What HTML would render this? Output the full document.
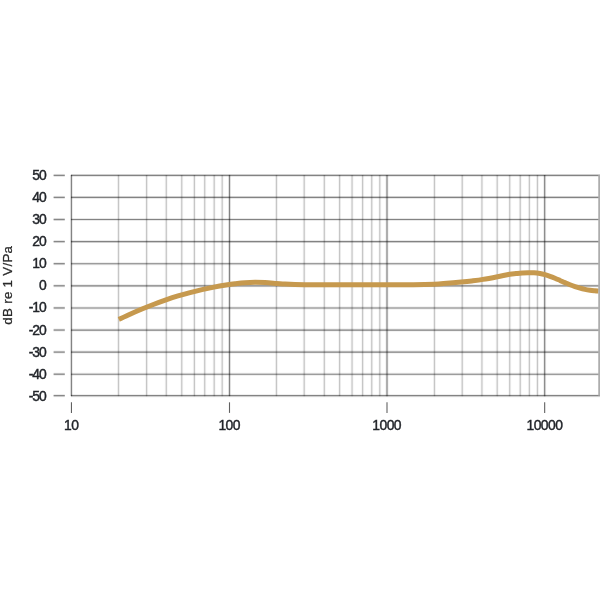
<!DOCTYPE html><html><head><meta charset="utf-8"><style>html,body{margin:0;padding:0;background:#fff}svg{display:block}text{font-family:"Liberation Sans",sans-serif;font-size:13.9px;fill:#22252a;stroke:#22252a;stroke-width:0.42px;letter-spacing:-0.55px}text.y{letter-spacing:-1.1px}text.t{font-size:13.3px;letter-spacing:0.3px;stroke-width:0.25px;fill:#2a2a2a;stroke:#2a2a2a}</style></head><body>
<svg width="600" height="600" viewBox="0 0 600 600">
<rect width="600" height="600" fill="#fff"/>
<g stroke="#000" stroke-opacity="0.045" stroke-width="3">
<line x1="118.50" y1="174.90" x2="118.50" y2="396.15"/>
<line x1="146.60" y1="174.90" x2="146.60" y2="396.15"/>
<line x1="166.30" y1="174.90" x2="166.30" y2="396.15"/>
<line x1="181.75" y1="174.90" x2="181.75" y2="396.15"/>
<line x1="194.40" y1="174.90" x2="194.40" y2="396.15"/>
<line x1="204.70" y1="174.90" x2="204.70" y2="396.15"/>
<line x1="214.20" y1="174.90" x2="214.20" y2="396.15"/>
<line x1="222.20" y1="174.90" x2="222.20" y2="396.15"/>
<line x1="276.46" y1="174.90" x2="276.46" y2="396.15"/>
<line x1="304.20" y1="174.90" x2="304.20" y2="396.15"/>
<line x1="324.32" y1="174.90" x2="324.32" y2="396.15"/>
<line x1="339.59" y1="174.90" x2="339.59" y2="396.15"/>
<line x1="352.06" y1="174.90" x2="352.06" y2="396.15"/>
<line x1="362.60" y1="174.90" x2="362.60" y2="396.15"/>
<line x1="371.74" y1="174.90" x2="371.74" y2="396.15"/>
<line x1="379.79" y1="174.90" x2="379.79" y2="396.15"/>
<line x1="434.46" y1="174.90" x2="434.46" y2="396.15"/>
<line x1="462.23" y1="174.90" x2="462.23" y2="396.15"/>
<line x1="481.93" y1="174.90" x2="481.93" y2="396.15"/>
<line x1="497.21" y1="174.90" x2="497.21" y2="396.15"/>
<line x1="509.69" y1="174.90" x2="509.69" y2="396.15"/>
<line x1="520.25" y1="174.90" x2="520.25" y2="396.15"/>
<line x1="529.39" y1="174.90" x2="529.39" y2="396.15"/>
<line x1="537.46" y1="174.90" x2="537.46" y2="396.15"/>
</g>
<g stroke="#000" stroke-opacity="0.19" stroke-width="1.2">
<line x1="118.50" y1="174.90" x2="118.50" y2="396.15"/>
<line x1="146.60" y1="174.90" x2="146.60" y2="396.15"/>
<line x1="166.30" y1="174.90" x2="166.30" y2="396.15"/>
<line x1="181.75" y1="174.90" x2="181.75" y2="396.15"/>
<line x1="194.40" y1="174.90" x2="194.40" y2="396.15"/>
<line x1="204.70" y1="174.90" x2="204.70" y2="396.15"/>
<line x1="214.20" y1="174.90" x2="214.20" y2="396.15"/>
<line x1="222.20" y1="174.90" x2="222.20" y2="396.15"/>
<line x1="276.46" y1="174.90" x2="276.46" y2="396.15"/>
<line x1="304.20" y1="174.90" x2="304.20" y2="396.15"/>
<line x1="324.32" y1="174.90" x2="324.32" y2="396.15"/>
<line x1="339.59" y1="174.90" x2="339.59" y2="396.15"/>
<line x1="352.06" y1="174.90" x2="352.06" y2="396.15"/>
<line x1="362.60" y1="174.90" x2="362.60" y2="396.15"/>
<line x1="371.74" y1="174.90" x2="371.74" y2="396.15"/>
<line x1="379.79" y1="174.90" x2="379.79" y2="396.15"/>
<line x1="434.46" y1="174.90" x2="434.46" y2="396.15"/>
<line x1="462.23" y1="174.90" x2="462.23" y2="396.15"/>
<line x1="481.93" y1="174.90" x2="481.93" y2="396.15"/>
<line x1="497.21" y1="174.90" x2="497.21" y2="396.15"/>
<line x1="509.69" y1="174.90" x2="509.69" y2="396.15"/>
<line x1="520.25" y1="174.90" x2="520.25" y2="396.15"/>
<line x1="529.39" y1="174.90" x2="529.39" y2="396.15"/>
<line x1="537.46" y1="174.90" x2="537.46" y2="396.15"/>
</g>
<g stroke="#000" stroke-opacity="0.085" stroke-width="3">
<line x1="70.95" y1="175.40" x2="600.00" y2="175.40"/>
<line x1="70.95" y1="197.40" x2="600.00" y2="197.40"/>
<line x1="70.95" y1="219.50" x2="600.00" y2="219.50"/>
<line x1="70.95" y1="241.60" x2="600.00" y2="241.60"/>
<line x1="70.95" y1="263.70" x2="600.00" y2="263.70"/>
<line x1="70.95" y1="285.80" x2="600.00" y2="285.80"/>
<line x1="70.95" y1="307.95" x2="600.00" y2="307.95"/>
<line x1="70.95" y1="330.05" x2="600.00" y2="330.05"/>
<line x1="70.95" y1="352.10" x2="600.00" y2="352.10"/>
<line x1="70.95" y1="374.20" x2="600.00" y2="374.20"/>
<line x1="70.95" y1="395.65" x2="600.00" y2="395.65"/>
<line x1="71.45" y1="174.90" x2="71.45" y2="396.15"/>
<line x1="229.50" y1="174.90" x2="229.50" y2="396.15"/>
<line x1="387.00" y1="174.90" x2="387.00" y2="396.15"/>
<line x1="544.67" y1="174.90" x2="544.67" y2="396.15"/>
</g>
<g stroke="#000" stroke-opacity="0.44" stroke-width="1.15">
<line x1="70.95" y1="175.40" x2="600.00" y2="175.40"/>
<line x1="70.95" y1="197.40" x2="600.00" y2="197.40"/>
<line x1="70.95" y1="219.50" x2="600.00" y2="219.50"/>
<line x1="70.95" y1="241.60" x2="600.00" y2="241.60"/>
<line x1="70.95" y1="263.70" x2="600.00" y2="263.70"/>
<line x1="70.95" y1="285.80" x2="600.00" y2="285.80"/>
<line x1="70.95" y1="307.95" x2="600.00" y2="307.95"/>
<line x1="70.95" y1="330.05" x2="600.00" y2="330.05"/>
<line x1="70.95" y1="352.10" x2="600.00" y2="352.10"/>
<line x1="70.95" y1="374.20" x2="600.00" y2="374.20"/>
<line x1="70.95" y1="395.65" x2="600.00" y2="395.65"/>
<line x1="71.45" y1="174.90" x2="71.45" y2="396.15"/>
<line x1="229.50" y1="174.90" x2="229.50" y2="396.15"/>
<line x1="387.00" y1="174.90" x2="387.00" y2="396.15"/>
<line x1="544.67" y1="174.90" x2="544.67" y2="396.15"/>
</g>
<g stroke="#000" stroke-opacity="0.09" stroke-width="3">
<line x1="53.60" y1="175.40" x2="64.80" y2="175.40"/>
<line x1="53.60" y1="197.40" x2="64.80" y2="197.40"/>
<line x1="53.60" y1="219.50" x2="64.80" y2="219.50"/>
<line x1="53.60" y1="241.60" x2="64.80" y2="241.60"/>
<line x1="53.60" y1="263.70" x2="64.80" y2="263.70"/>
<line x1="53.60" y1="285.80" x2="64.80" y2="285.80"/>
<line x1="53.60" y1="307.95" x2="64.80" y2="307.95"/>
<line x1="53.60" y1="330.05" x2="64.80" y2="330.05"/>
<line x1="53.60" y1="352.10" x2="64.80" y2="352.10"/>
<line x1="53.60" y1="374.20" x2="64.80" y2="374.20"/>
<line x1="53.60" y1="395.65" x2="64.80" y2="395.65"/>
</g>
<g stroke="#000" stroke-opacity="0.42" stroke-width="1.3">
<line x1="53.60" y1="175.40" x2="64.80" y2="175.40"/>
<line x1="53.60" y1="197.40" x2="64.80" y2="197.40"/>
<line x1="53.60" y1="219.50" x2="64.80" y2="219.50"/>
<line x1="53.60" y1="241.60" x2="64.80" y2="241.60"/>
<line x1="53.60" y1="263.70" x2="64.80" y2="263.70"/>
<line x1="53.60" y1="285.80" x2="64.80" y2="285.80"/>
<line x1="53.60" y1="307.95" x2="64.80" y2="307.95"/>
<line x1="53.60" y1="330.05" x2="64.80" y2="330.05"/>
<line x1="53.60" y1="352.10" x2="64.80" y2="352.10"/>
<line x1="53.60" y1="374.20" x2="64.80" y2="374.20"/>
<line x1="53.60" y1="395.65" x2="64.80" y2="395.65"/>
</g>
<g stroke="#000" stroke-opacity="0.62" stroke-width="1.1">
<line x1="71.45" y1="402.30" x2="71.45" y2="412.90"/>
<line x1="229.50" y1="402.30" x2="229.50" y2="412.90"/>
<line x1="387.00" y1="402.30" x2="387.00" y2="412.90"/>
<line x1="544.67" y1="402.30" x2="544.67" y2="412.90"/>
</g>
<path d="M118.80 319.40 C120.67 318.53 126.13 315.92 130.00 314.20 C133.87 312.48 138.00 310.71 142.00 309.05 C146.00 307.39 150.00 305.78 154.00 304.25 C158.00 302.72 162.00 301.27 166.00 299.89 C170.00 298.51 174.00 297.19 178.00 295.97 C182.00 294.75 186.00 293.64 190.00 292.58 C194.00 291.52 198.00 290.53 202.00 289.62 C206.00 288.71 210.00 287.87 214.00 287.10 C218.00 286.33 222.50 285.57 226.00 285.01 C229.50 284.45 231.83 284.11 235.00 283.72 C238.17 283.33 241.67 282.89 245.00 282.65 C248.33 282.40 251.67 282.27 255.00 282.25 C258.33 282.23 261.42 282.36 265.00 282.55 C268.58 282.74 273.17 283.15 276.50 283.40 C279.83 283.65 281.92 283.87 285.00 284.05 C288.08 284.23 291.67 284.40 295.00 284.50 C298.33 284.60 300.83 284.62 305.00 284.65 C309.17 284.67 312.50 284.65 320.00 284.65 C327.50 284.65 340.00 284.65 350.00 284.65 C360.00 284.65 369.45 284.65 380.00 284.65 C390.55 284.65 404.27 284.72 413.30 284.65 C422.33 284.57 428.63 284.42 434.20 284.20 C439.77 283.98 442.20 283.67 446.70 283.30 C451.20 282.93 457.03 282.40 461.20 282.00 C465.37 281.60 468.07 281.33 471.70 280.90 C475.33 280.47 478.70 280.10 483.00 279.40 C487.30 278.70 493.07 277.57 497.50 276.70 C501.93 275.83 506.52 274.72 509.60 274.19 C512.68 273.66 513.93 273.72 516.00 273.52 C518.07 273.32 520.00 273.12 522.00 272.97 C524.00 272.83 526.00 272.68 528.00 272.65 C530.00 272.62 532.00 272.63 534.00 272.78 C536.00 272.93 538.17 273.22 540.00 273.54 C541.83 273.86 543.33 274.24 545.00 274.70 C546.67 275.16 548.33 275.71 550.00 276.30 C551.67 276.89 553.33 277.56 555.00 278.25 C556.67 278.94 558.33 279.69 560.00 280.42 C561.67 281.15 563.33 281.92 565.00 282.64 C566.67 283.36 568.33 284.09 570.00 284.75 C571.67 285.41 573.33 286.05 575.00 286.62 C576.67 287.19 578.33 287.71 580.00 288.16 C581.67 288.62 583.33 289.01 585.00 289.35 C586.67 289.69 588.33 289.96 590.00 290.20 C591.67 290.44 593.57 290.64 595.00 290.80 C596.43 290.96 598.00 291.09 598.60 291.15" fill="none" stroke="#c6994e" stroke-width="5.0" stroke-linecap="butt" stroke-linejoin="round"/>
<rect x="598.25" y="175.00" width="2" height="220.65" fill="#adadad"/>
<text class="y" x="45.6" y="180.2" text-anchor="end">50</text>
<text class="y" x="45.6" y="202.2" text-anchor="end">40</text>
<text class="y" x="45.6" y="224.2" text-anchor="end">30</text>
<text class="y" x="45.6" y="246.3" text-anchor="end">20</text>
<text class="y" x="45.6" y="268.3" text-anchor="end">10</text>
<text class="y" x="45.6" y="290.4" text-anchor="end">0</text>
<text class="y" x="45.6" y="312.4" text-anchor="end">-10</text>
<text class="y" x="45.6" y="334.5" text-anchor="end">-20</text>
<text class="y" x="45.6" y="356.5" text-anchor="end">-30</text>
<text class="y" x="45.6" y="378.6" text-anchor="end">-40</text>
<text class="y" x="45.6" y="400.6" text-anchor="end">-50</text>
<text x="71.2" y="429.7" text-anchor="middle">10</text>
<text x="229.2" y="429.7" text-anchor="middle">100</text>
<text x="386.7" y="429.7" text-anchor="middle">1000</text>
<text x="544.4" y="429.7" text-anchor="middle">10000</text>
<text class="t" transform="translate(12.0 285.2) rotate(-90)" text-anchor="middle">dB re 1 V/Pa</text>
</svg></body></html>
